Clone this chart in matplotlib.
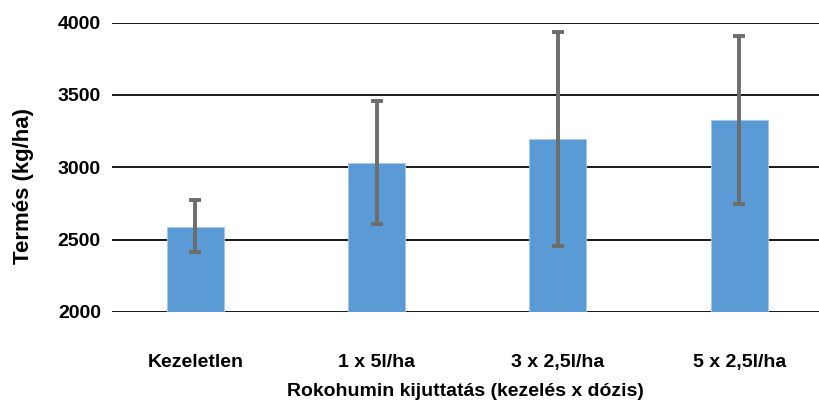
import numpy as np
import matplotlib.pyplot as plt

# adatok
kezelesek = ['Kezeletlen', '1 x 5l/ha', '3 x 2,5l/ha', '5 x 2,5l/ha']
termes = [2589, 3027, 3197, 3326]
hiba_also = [2416, 2608, 2458, 2746]
hiba_felso = [2774, 3457, 3936, 3908]

plt.rcParams['font.family'] = ['Liberation Sans', 'DejaVu Sans']
plt.rcParams['font.weight'] = 'bold'

fig = plt.figure(figsize=(8.19, 4.01), dpi=100)
ax = fig.add_axes([112/819, 1 - 312/401, 1 - 112/819, (312 - 22.5)/401])

x = np.arange(len(kezelesek))
termes = np.array(termes)
yerr = [termes - np.array(hiba_also), np.array(hiba_felso) - termes]

ax.bar(x, termes - 2000, bottom=2000, width=0.314, color='#5b9bd5',
       edgecolor='#a9c8ea', linewidth=0.6, zorder=3)
ax.errorbar(x, termes, yerr=yerr, fmt='none', ecolor='#6d6d6d',
            elinewidth=2.8, capsize=4, capthick=2.8, zorder=4)

ax.set_xlim(-0.46, 3.44)
ax.set_ylim(2000, 4000)
ax.set_yticks([2000, 2500, 3000, 3500, 4000])
ax.yaxis.grid(True, color='#1a1a1a', linewidth=1.4, zorder=0)
ax.set_axisbelow(True)
for s in ax.spines.values():
    s.set_visible(False)

ax.set_xticks(x)
ax.set_xticklabels(kezelesek, fontsize=14, fontweight='bold')
ax.tick_params(axis='x', length=0, pad=30)
ax.tick_params(axis='y', length=0, pad=8, labelsize=14)
for t in ax.get_yticklabels():
    t.set_fontweight('bold')

ax.set_xlabel('Rokohumin kijuttatás (kezelés x dózis)', fontsize=14,
              fontweight='bold', labelpad=9)
ax.set_ylabel('Termés (kg/ha)', fontsize=16, fontweight='bold')
ax.yaxis.set_label_coords(-0.110, 0.435)

fig.savefig('out.png', dpi=100)
